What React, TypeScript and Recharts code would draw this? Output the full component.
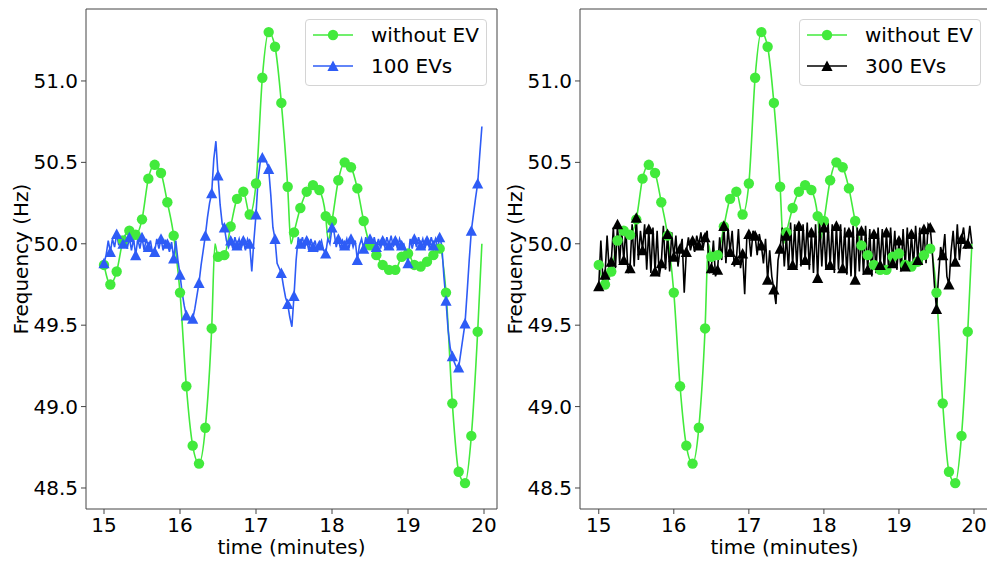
import { Legend, Line, LineChart, ReferenceArea, XAxis, YAxis } from "recharts";

const FONT = "'DejaVu Sans', sans-serif";
const GREEN = "#42ea3c";
const BLUE = "#2e5cf6";
const BLACK = "#000000";
const FRAME = "#444444";

const xTicks = [15, 16, 17, 18, 19, 20];
const yTicks = [48.5, 49.0, 49.5, 50.0, 50.5, 51.0];

// without EV: one reading every 5 s from minute 15, all drawn with a marker
const greenValues = [
  49.87, 49.75, 49.83, 50.02, 50.08, 50.055, 50.15, 50.4, 50.485, 50.435,
  50.255, 50.05, 49.7, 49.125, 48.76, 48.65, 48.87, 49.48, 49.92, 49.93,
  50.106, 50.276, 50.32, 50.18, 50.37, 51.02, 51.3, 51.21, 50.865, 50.35,
  50.07, 50.22, 50.32, 50.36, 50.33, 50.17, 50.14, 50.39, 50.5, 50.47,
  50.34, 50.14, 49.99, 49.93, 49.87, 49.84, 49.84, 49.92, 49.94, 49.87,
  49.86, 49.89, 49.93, 49.97, 49.7, 49.02, 48.6, 48.53, 48.82, 49.46,
];
// in-between readings of the same curve, no marker
const greenExtraTimes = [16.46, 17.46, 17.95, 19.972];
const greenExtraValues = [50.0, 50.0, 50.02, 50.0];

// EV cases: a reading every 5/3 s, marker on every third one
const ev100Values = [
  49.88, 49.93, 50.02, 49.95, 50.03, 49.98, 50.06, 49.99, 50.04, 50.0,
  50.05, 49.97, 50.04, 49.96, 50.03, 49.93, 50.03, 49.97, 50.04, 49.96,
  50.03, 49.98, 50.02, 49.94, 49.95, 50.03, 49.97, 50.03, 49.96, 50.02,
  50.0, 49.95, 50.01, 49.91, 50.02, 49.9, 49.81, 49.7, 49.62, 49.56,
  49.54, 49.53, 49.54, 49.6, 49.68, 49.76, 49.87, 49.96, 50.05, 50.16,
  50.25, 50.31, 50.52, 50.63, 50.42, 50.24, 50.12, 50.1, 50.02, 49.98,
  50.02, 49.97, 50.04, 49.99, 50.03, 49.97, 50.02, 49.96, 50.03, 50.0,
  49.83, 50.02, 50.18, 50.4, 50.5, 50.53, 50.52, 50.5, 50.46, 50.3,
  50.1, 50.03, 49.88, 49.85, 49.82, 49.74, 49.67, 49.63, 49.55, 49.49,
  49.68, 49.9, 50.04, 50.0, 50.04, 49.97, 50.02, 49.96, 50.03, 49.98,
  50.02, 49.95, 49.99, 50.02, 49.96, 49.94, 50.03, 50.0, 50.1, 50.07,
  49.98, 50.03, 49.97, 50.02, 49.99, 50.03, 49.97, 50.03, 49.98, 50.02,
  49.9, 49.99, 50.03, 49.97, 50.04, 49.98, 50.03, 49.97, 50.04, 49.98,
  50.03, 49.97, 50.02, 49.98, 50.04, 49.99, 50.05, 49.98, 50.02, 49.97,
  50.03, 49.99, 50.0, 49.95, 49.88, 50.03, 49.97, 50.03, 49.98, 50.04,
  49.99, 50.03, 49.97, 50.02, 49.98, 50.04, 49.99, 50.03, 49.97, 50.04,
  49.99, 49.8, 49.65, 49.47, 49.36, 49.31, 49.27, 49.24, 49.24, 49.33,
  49.42, 49.51, 49.7, 49.9, 50.08, 50.18, 50.28, 50.37, 50.55, 50.72,
];

const ev300Values = [
  49.74, 50.02, 49.78, 49.81, 50.05, 49.84, 49.89, 50.1, 49.85, 50.12,
  49.88, 50.08, 49.9, 50.1, 49.82, 49.85, 50.12, 49.86, 50.16, 49.9,
  50.08, 49.96, 50.12, 49.84, 50.09, 49.82, 50.1, 49.83, 50.08, 49.8,
  49.88, 50.11, 49.84, 50.06, 49.83, 50.07, 49.92, 50.05, 49.86, 49.97,
  50.03, 49.7, 49.95, 50.04, 49.96, 50.02, 49.95, 50.05, 49.99, 50.07,
  49.97, 50.04, 50.08, 49.82, 49.85, 50.02, 49.8, 49.84, 50.04, 49.9,
  50.11, 49.88, 50.1, 49.95, 50.08, 49.86, 49.9, 50.09, 49.85, 49.94,
  49.69, 50.03, 50.06, 49.92, 50.08, 50.05, 49.93, 50.06, 49.99, 49.88,
  50.03, 49.78, 49.96, 49.8, 49.72, 49.63, 49.9, 49.97, 50.1, 49.86,
  50.05, 49.84, 50.13, 49.87, 50.12, 49.85, 50.11, 49.86, 50.12, 49.9,
  50.13, 49.84, 50.07, 49.82, 50.12, 49.79, 50.14, 49.86, 50.1, 49.84,
  50.13, 49.87, 50.12, 49.82, 50.11, 49.84, 50.12, 49.85, 50.1, 49.81,
  50.07, 49.8, 50.11, 49.78, 50.1, 49.83, 50.08, 49.81, 50.11, 49.84,
  50.09, 49.8, 50.06, 49.82, 50.1, 49.87, 50.09, 49.83, 50.07, 49.85,
  50.1, 49.88, 50.08, 49.84, 50.02, 49.83, 50.09, 49.86, 50.1, 49.85,
  50.06, 49.86, 50.11, 49.9, 50.1, 49.87, 50.09, 49.88, 50.12, 50.1,
  49.95, 49.75, 49.6, 49.8, 49.98, 49.93, 50.06, 49.8, 49.75, 49.95,
  50.08, 49.89, 50.12, 49.9, 50.03, 50.1, 49.97, 50.0, 50.11, 50.0,
];

const greenData = [
  ...greenValues.map((y, k) => ({ t: 15 + k / 12, y, mark: true })),
  ...greenExtraTimes.map((t, j) => ({ t, y: greenExtraValues[j], mark: false })),
].sort((a, b) => a.t - b.t);

const toSeries = (values: number[]) => values.map((y, i) => ({ t: 15 + i / 36, y }));

const tri = (cx: number, cy: number, r: number) =>
  `M${cx},${cy - r}L${cx + r},${cy + r * 0.9}L${cx - r},${cy + r * 0.9}Z`;

const circleDot = (p: any) =>
  p.payload && p.payload.mark ? (
    <circle key={`g-${p.index}`} cx={p.cx} cy={p.cy} r={5.2} fill={GREEN} />
  ) : (
    <g key={`g-${p.index}`} />
  );

const triangleDot = (color: string) => (p: any) =>
  p.index % 3 === 0 ? (
    <path key={`t-${p.index}`} d={tri(p.cx, p.cy, 5.6)} fill={color} />
  ) : (
    <g key={`t-${p.index}`} />
  );

function LegendBox({ evName, evColor }: { evName: string; evColor: string }) {
  return (
    <div
      style={{
        width: 182,
        height: 67,
        boxSizing: "border-box",
        border: "1px solid #d4d4d4",
        borderRadius: 4,
        background: "rgba(255,255,255,0.85)",
      }}
    >
      <svg width={180} height={65} style={{ display: "block" }}>
        <line x1={7} x2={47} y1={15} y2={15} stroke={GREEN} strokeWidth={1.6} />
        <circle cx={27} cy={15} r={5.2} fill={GREEN} />
        <text x={65} y={15} dominantBaseline="central" fontSize={20} fontFamily={FONT} fill="#000">
          without EV
        </text>
        <line x1={7} x2={47} y1={46} y2={46} stroke={evColor} strokeWidth={1.6} />
        <path d={tri(27, 46, 5.6)} fill={evColor} />
        <text x={65} y={46} dominantBaseline="central" fontSize={20} fontFamily={FONT} fill="#000">
          {evName}
        </text>
      </svg>
    </div>
  );
}

type PanelProps = {
  left: number;
  rightMargin: number;
  xDomain: [number, number];
  evName: string;
  evColor: string;
  evValues: number[];
};

const yDomain: [number, number] = [48.371, 51.442];
const tickStyle = { fontSize: 20, fill: "#000", fontFamily: FONT };
const labelStyle = { fontSize: 20, fill: "#000", fontFamily: FONT };

function Panel({ left, rightMargin, xDomain, evName, evColor, evValues }: PanelProps) {
  return (
    <div style={{ position: "absolute", left, top: 0 }}>
      <LineChart
        width={500}
        height={561}
        margin={{ top: 9, right: rightMargin, bottom: 0, left: 0 }}
      >
        <XAxis
          dataKey="t"
          type="number"
          domain={xDomain}
          ticks={xTicks}
          allowDataOverflow
          height={52}
          axisLine={false}
          tickLine={{ stroke: FRAME }}
          tickSize={5}
          tickMargin={4}
          tick={tickStyle}
          label={{
            value: "time (minutes)",
            position: "insideBottom",
            offset: 7,
            style: labelStyle,
          }}
        />
        <YAxis
          type="number"
          domain={yDomain}
          ticks={yTicks}
          allowDataOverflow
          width={86}
          axisLine={false}
          tickLine={{ stroke: FRAME }}
          tickSize={5}
          tickMargin={3}
          tick={tickStyle}
          tickFormatter={(v: number) => v.toFixed(1)}
          label={{
            value: "Frequency (Hz)",
            angle: -90,
            position: "insideLeft",
            offset: 21,
            style: { ...labelStyle, textAnchor: "middle" },
          }}
        />
        <ReferenceArea
          x1={xDomain[0]}
          x2={xDomain[1]}
          y1={yDomain[0]}
          y2={yDomain[1]}
          fill="none"
          stroke={FRAME}
          strokeWidth={1}
          ifOverflow="visible"
        />
        <Line
          data={greenData}
          dataKey="y"
          name="without EV"
          type="monotone"
          stroke={GREEN}
          strokeWidth={1.6}
          dot={circleDot}
          activeDot={false}
          isAnimationActive={false}
        />
        <Line
          data={toSeries(evValues)}
          dataKey="y"
          name={evName}
          type="linear"
          stroke={evColor}
          strokeWidth={1.6}
          dot={triangleDot(evColor)}
          activeDot={false}
          isAnimationActive={false}
        />
        <Legend
          layout="horizontal"
          verticalAlign="middle"
          align="center"
          wrapperStyle={{ left: 305, top: 19, width: 182, height: 67, right: "auto" }}
          content={() => <LegendBox evName={evName} evColor={evColor} />}
        />
      </LineChart>
    </div>
  );
}

export default function App() {
  return (
    <div
      style={{
        position: "relative",
        width: 987,
        height: 561,
        overflow: "hidden",
        background: "#fff",
        fontFamily: FONT,
      }}
    >
      <style>{"body{margin:0;}"}</style>
      <Panel
        left={0}
        rightMargin={3}
        xDomain={[14.763, 20.171]}
        evName="100 EVs"
        evColor={BLUE}
        evValues={ev100Values}
      />
      <Panel
        left={494}
        rightMargin={5}
        xDomain={[14.75, 20.2]}
        evName="300 EVs"
        evColor={BLACK}
        evValues={ev300Values}
      />
    </div>
  );
}
